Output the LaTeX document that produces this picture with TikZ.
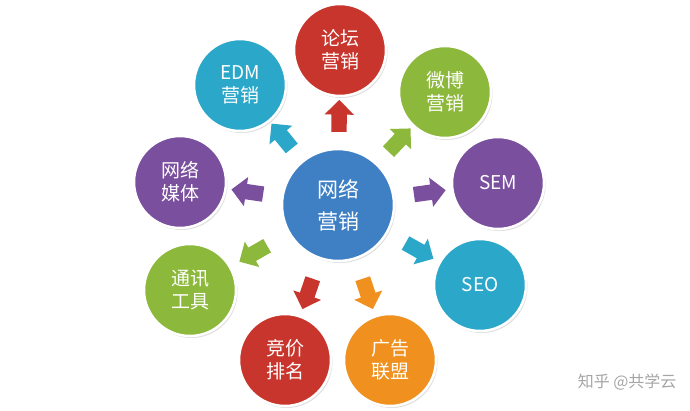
\documentclass[tikz,border=0pt]{standalone}
\usepackage{fontspec}
\setmainfont{Noto Sans CJK SC}
\usetikzlibrary{shapes.arrows,calc,shadows}
\definecolor{cred}{HTML}{C8352C}
\definecolor{cgreen}{HTML}{8CB83C}
\definecolor{cpurple}{HTML}{7A4F9E}
\definecolor{cteal}{HTML}{2BA7C9}
\definecolor{corange}{HTML}{F0901E}
\definecolor{cblue}{HTML}{3F80C4}
\tikzset{
 ball/.style={circle,minimum size=92pt,draw=white,line width=2.5pt,text=white,font=\fontsize{19}{23}\selectfont,align=center,inner sep=0pt,drop shadow={opacity=0.25,shadow xshift=1.5pt,shadow yshift=-2pt}},
 arr/.style={single arrow,minimum height=32pt,single arrow head extend=7pt,inner sep=7.5pt,fill=#1}
}
\begin{document}
\begin{tikzpicture}[x=1pt,y=-1pt]
\useasboundingbox[fill=white] (0,0) rectangle (690,410);
\node[ball,minimum size=112pt,fill=cblue,font=\fontsize{21}{32}\selectfont] (c) at (338,205) {网络\\营销};
\node[ball,fill=cred] (o1) at (340,50) {论坛\\营销};
\node[ball,fill=cgreen] (o2) at (445,92) {微博\\营销};
\node[ball,fill=cpurple] (o3) at (498,183) {SEM};
\node[ball,fill=cteal] (o4) at (480,285) {SEO};
\node[ball,fill=corange] (o5) at (390,360) {广告\\联盟};
\node[ball,fill=cred] (o6) at (285,360) {竞价\\排名};
\node[ball,fill=cgreen] (o7) at (190,290) {通讯\\工具};
\node[ball,fill=cpurple] (o8) at (180,182) {网络\\媒体};
\node[ball,fill=cteal] (o9) at (240,85) {EDM\\营销};
\foreach \o/\col in {o1/cred,o2/cgreen,o3/cpurple,o4/cteal,o5/corange,o6/cred,o7/cgreen,o8/cpurple,o9/cteal}{
 \path let \p1=($(\o)-(c)$), \n1={atan2(\y1,\x1)} in
   node[arr=\col,rotate=\n1] (a\o) at ($(c)!0.55!(\o)$) {};
}
\node[text=gray!70,font=\fontsize{16}{18}\selectfont,anchor=east] (wm) at (680,382) {知乎 @共学云};
\end{tikzpicture}
\end{document}
